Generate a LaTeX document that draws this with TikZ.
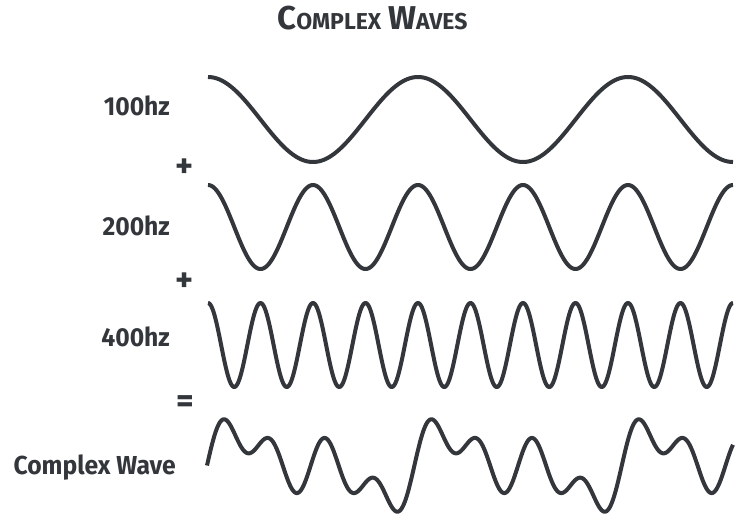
\documentclass[tikz,border=0pt]{standalone}
\usepackage{fontspec}
\setmainfont{Fira Sans}
\newfontfamily\lblfont{Fira Sans}[FakeStretch=0.95]
\newfontfamily\ttlfont{Fira Sans}
\definecolor{ink}{HTML}{33363B}
\begin{document}
\begin{tikzpicture}[x=1pt,y=-1pt,
  wave/.style={draw=ink, line width=4pt, line join=round},
  lbl/.style={text=ink, inner sep=0pt, anchor=base east,
    font=\lblfont\bfseries\fontsize{26}{26}\selectfont},
  op/.style={text=ink, inner sep=0pt, anchor=center,
    font=\ttlfont\bfseries\fontsize{34}{34}\selectfont},
  ttl/.style={text=ink, inner sep=0pt, anchor=base,
    font=\ttlfont\bfseries}]
\fill[white] (0,0) rectangle (755,525);
\useasboundingbox (0,0) rectangle (755,525);
% title
\node[ttl] (title) at (372.5,29)
  {{\fontsize{33}{33}\selectfont C}{\fontsize{23}{23}\selectfont OMPLEX}\hspace{7pt}{\fontsize{33}{33}\selectfont W}{\fontsize{23}{23}\selectfont AVES}};
% labels
\node[lbl] (l1) at (170,115) {100hz};
\node[lbl] (l2) at (170,235) {200hz};
\node[lbl] (l3) at (170,346) {400hz};
\node[lbl] (l4) at (176,474) {Complex Wave};
% operators
\node[op] (p1) at (185,168) {+};
\node[op] (p2) at (185,282) {+};
\node[op] (eq) at (185,404) {=};
% waves
\draw[wave] plot[domain=0:525, samples=400] ({208+\x},{119.5-42.5*cos(\x/210*360)});
\draw[wave] plot[domain=0:525, samples=500] ({208+\x},{227-42*cos(\x/105*360)});
\draw[wave] plot[domain=0:525, samples=700] ({208+\x},{345-42*cos(\x/52.5*360)});
\draw[wave] plot[domain=0:913, samples=800] ({207+\x/913*526},{465.5-20.7*(sin(\x)+sin(2*\x)+sin(4*\x))});
\end{tikzpicture}
\end{document}
